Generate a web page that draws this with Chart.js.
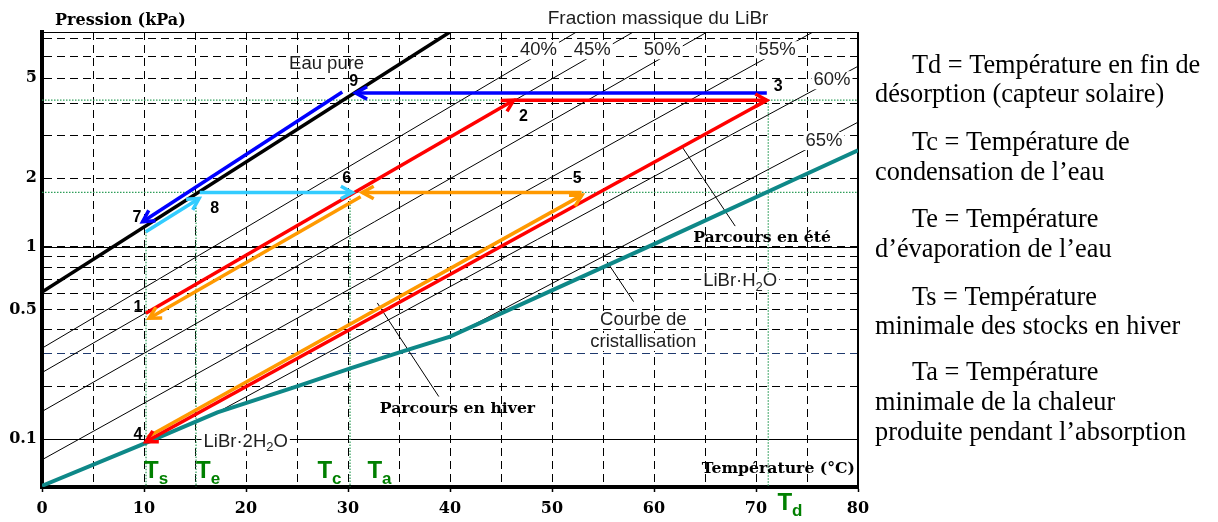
<!DOCTYPE html>
<html><head><meta charset="utf-8">
<script src="https://cdn.jsdelivr.net/npm/chart.js@4/dist/chart.umd.min.js"></script>
<style>html,body{margin:0;padding:0;background:#fff;overflow:hidden}canvas{display:block}</style>
</head><body>
<canvas id="c" width="1218" height="522"></canvas>
<script>
// ================= DATA (temperatures in °C, pressures in kPa) =================
const xTickValues = [0,5,10,15,20,25,30,35,40,45,50,55,60,65,70,75,80];
const xTickLabels = [0,10,20,30,40,50,60,70,80];
const yGridValues = [0.1,0.2,0.3,0.4,0.5,0.6,0.7,0.8,0.9,1,2,3,4,5,6,7];
const yTickLabels = [0.1,0.5,1,2,5];
const ySolidGrid = [0.1,1];
const yNavyGrid = [0.3];
const pMin = 0.0511, pMax = 7.375;

// pure water line
const waterT = [0, 40];
const waterP = [0.611, 7.375];

// LiBr iso-concentration lines (start / end)
const concNames = ['40%','45%','50%','55%','60%','65%'];
const concT0 = [0, 0, 0, 0, 17.2, 41.35];
const concP0 = [0.319, 0.237, 0.1445, 0.0753, 0.143, 0.396];
const concT1 = [52.4, 57.97, 65.21, 75.59, 80, 80];
const concP1 = [7.375, 7.375, 7.375, 7.375, 5.534, 3.381];

// crystallisation curve
const crystT = [0, 10.2, 17.2, 25.0, 30.3, 35.2, 40.0, 60, 73.6, 80];
const crystP = [0.052, 0.0951, 0.143, 0.1997, 0.2505, 0.3054, 0.3664, 1.027, 1.958, 2.607];

// characteristic temperatures and pressure levels
const T_s = 10.2, T_e = 15.1, T_c = 30.2, T_d = 71.2;
const P_high = 4.119, P_mid = 1.737;

// cycle segments [Tstart, Pstart, Tend, Pend]
const redSeg1 = [10.18, 0.4804, 46.25, 4.119];   // 1 -> 2
const redSeg2 = [46.25, 4.119, 71.06, 4.119];    // 2 -> 3
const redSeg3 = [71.06, 4.119, 10.18, 0.0965];   // 3 -> 4
const blueSeg1 = [71.06, 4.392, 30.75, 4.392];   // 3 -> 9
const blueSeg2 = [29.44, 4.43, 9.86, 1.294];     // 9 -> 7
const cyanSeg1 = [10.18, 1.167, 15.40, 1.637];   // 7 -> 8
const cyanSeg2 = [15.47, 1.737, 30.42, 1.737];   // 8 -> 6
const orangeSeg1 = [31.24, 1.664, 10.51, 0.4539];// 6 -> 1
const orangeSeg2 = [10.38, 0.1033, 52.94, 1.692];// 4 -> 5
const orangeSeg3 = [52.9, 1.737, 31.4, 1.737];   // 5 -> 6

// leader lines
const leaderSummer = [62.77, 2.686, 67.96, 1.238];
const leaderWinter = [32.87, 0.5404, 38.9, 0.1753];
const leaderCryst = [55.39, 0.8512, 58.0, 0.5484];

// point numbers
const ptNames = ['9','3','2','6','5','7','8','1','4'];
const ptT = [30.55, 72.17, 47.2, 29.87, 52.48, 9.30, 16.94, 9.40, 9.40];
const ptP = [4.866, 4.658, 3.569, 1.998, 1.998, 1.357, 1.486, 0.5106, 0.1061];

// percent label anchors
const concLabelT = [48.67, 53.95, 60.81, 72.07, 77.45, 76.67];
const concLabelP = [6.337, 6.337, 6.337, 6.337, 4.907, 2.840];

// temperature marker labels (T, subscript)
const tMarkNames = ['s','e','c','a','d'];
const tMarkT = [10.0, 15.1, 27.0, 31.9, 72.1];

// ================= custom Dühring pressure scale =================
const dewPoint = p => { const a = Math.log(p / 0.61094); return 243.04 * a / (17.625 - a); };
const satP = t => 0.61094 * Math.exp(17.625 * t / (t + 243.04));
class DuhringScale extends Chart.Scale {
  determineDataLimits() { this.min = this.options.min; this.max = this.options.max; }
  buildTicks() { return this.options.tickValues.map(v => ({ value: v })); }
  getLabelForValue(v) { return String(v); }
  configure() { super.configure(); this._t0 = dewPoint(this.min); this._t1 = dewPoint(this.max); }
  getPixelForValue(v) { return this.getPixelForDecimal((dewPoint(v) - this._t0) / (this._t1 - this._t0)); }
  getValueForPixel(px) { return satP(this._t0 + this.getDecimalForPixel(px) * (this._t1 - this._t0)); }
}
DuhringScale.id = 'duhring';
DuhringScale.defaults = {};
Chart.register(DuhringScale);

// ================= datasets =================
const pts = (ts, ps) => ts.map((t, i) => ({ x: t, y: ps[i] }));
const seg = s => [{ x: s[0], y: s[1] }, { x: s[2], y: s[3] }];
const line = (data, color, width, order, extra) => Object.assign({
  data, borderColor: color, borderWidth: width, pointRadius: 0, fill: false, tension: 0, order
}, extra || {});

const RED = '#ff0000', BLUE = '#0000ff', CYAN = '#33ccff', ORANGE = '#ff9900', TEAL = '#0e8888', GREEN = '#2f9e5a';
const datasets = [];
[redSeg1, redSeg2, redSeg3].forEach(s => datasets.push(line(seg(s), RED, 3.5, 0, { arrow: true })));
[blueSeg1, blueSeg2].forEach(s => datasets.push(line(seg(s), BLUE, 3.5, 0, { arrow: true })));
[cyanSeg1, cyanSeg2].forEach(s => datasets.push(line(seg(s), CYAN, 3.5, 0, { arrow: true })));
[orangeSeg1, orangeSeg2, orangeSeg3].forEach(s => datasets.push(line(seg(s), ORANGE, 3.5, 0.5, { arrow: true })));
datasets.push(line(pts(crystT, crystP), TEAL, 4, 1));
datasets.push(line(pts(waterT, waterP), '#000', 3.5, 1));
concNames.forEach((n, i) => datasets.push(line([{ x: concT0[i], y: concP0[i] }, { x: concT1[i], y: concP1[i] }], '#000', 1, 2)));
[leaderSummer, leaderWinter, leaderCryst].forEach(s => datasets.push(line(seg(s), '#000', 1, 2)));
// green dotted reference lines
const dotted = { borderDash: [1.5, 1.5] };
datasets.push(line([{ x: 0, y: P_high }, { x: 80, y: P_high }], GREEN, 1.2, 3, dotted));
datasets.push(line([{ x: 0, y: P_mid }, { x: 80, y: P_mid }], GREEN, 1.2, 3, dotted));
datasets.push(line([{ x: T_s, y: cyanSeg1[1] }, { x: T_s, y: pMin }], GREEN, 1.2, 3, dotted));
datasets.push(line([{ x: T_e, y: cyanSeg1[3] }, { x: T_e, y: pMin }], GREEN, 1.2, 3, dotted));
datasets.push(line([{ x: T_c, y: P_mid }, { x: T_c, y: pMin }], GREEN, 1.2, 3, dotted));
datasets.push(line([{ x: T_d, y: P_high }, { x: T_d, y: pMin }], GREEN, 1.2, 3, dotted));

// ================= plugins =================
const SANS = '"Liberation Sans", Arial, sans-serif';
const SERIF_B = 'bold 15.7px "DejaVu Serif", serif';

function drawParts(ctx, parts, x, y, align, bg) {
  let w = 0;
  parts.forEach(p => { ctx.font = p.font; p.w = ctx.measureText(p.t).width; w += p.w; });
  let sx = align === 'center' ? x - w / 2 : (align === 'right' ? x - w : x);
  if (bg) { ctx.fillStyle = '#fff'; ctx.fillRect(sx - 2, y - bg / 2, w + 4, bg); }
  ctx.textAlign = 'left';
  parts.forEach(p => { ctx.font = p.font; ctx.fillStyle = p.color || '#000'; ctx.fillText(p.t, sx, y + (p.dy || 0)); sx += p.w; });
}

const framePlugin = {
  id: 'frame',
  beforeDatasetsDraw(chart) {
    const { ctx, chartArea: a, scales: { y } } = chart;
    ctx.save();
    ctx.strokeStyle = '#000'; ctx.lineWidth = 1; ctx.setLineDash([]);
    ySolidGrid.forEach(v => {
      const py = Math.round(y.getPixelForValue(v)) + 0.5;
      ctx.beginPath(); ctx.moveTo(a.left, py); ctx.lineTo(a.right, py); ctx.stroke();
    });
    ctx.beginPath(); ctx.moveTo(a.left, a.top + 0.5); ctx.lineTo(a.right, a.top + 0.5); ctx.stroke();
    ctx.lineWidth = 2;
    ctx.beginPath(); ctx.moveTo(a.right, a.top); ctx.lineTo(a.right, a.bottom); ctx.stroke();
    ctx.restore();
  }
};

const arrowPlugin = {
  id: 'arrows',
  afterDatasetsDraw(chart) {
    const ctx = chart.ctx;
    chart.data.datasets.forEach((ds, i) => {
      if (!ds.arrow) return;
      const d = chart.getDatasetMeta(i).data;
      const p1 = d[d.length - 2], p2 = d[d.length - 1];
      const ang = Math.atan2(p2.y - p1.y, p2.x - p1.x);
      const L = 13, w = 0.5;
      ctx.save();
      ctx.strokeStyle = ds.borderColor; ctx.lineWidth = ds.borderWidth; ctx.lineJoin = 'miter'; ctx.lineCap = 'butt';
      ctx.beginPath();
      ctx.moveTo(p2.x - L * Math.cos(ang - w), p2.y - L * Math.sin(ang - w));
      ctx.lineTo(p2.x, p2.y);
      ctx.lineTo(p2.x - L * Math.cos(ang + w), p2.y - L * Math.sin(ang + w));
      ctx.stroke();
      ctx.restore();
    });
  }
};

const labelPlugin = {
  id: 'labels',
  afterDatasetsDraw(chart) {
    const { ctx, chartArea: a, scales: { x, y } } = chart;
    const X = t => x.getPixelForValue(t), Y = p => y.getPixelForValue(p);
    ctx.save();
    ctx.textBaseline = 'middle';
    const f18 = '18.5px ' + SANS, f13 = '13px ' + SANS;
    const txtCol = '#1e1e1e';
    concNames.forEach((n, i) => drawParts(ctx, [{ t: n, font: f18, color: txtCol }], X(concLabelT[i]), Y(concLabelP[i]), 'center', 18));
    drawParts(ctx, [{ t: 'Eau pure', font: f18, color: txtCol }], X(27.9), Y(5.63), 'center', 0);
    drawParts(ctx, [{ t: 'Courbe de', font: f18, color: txtCol }], X(58.95), Y(0.4448), 'center', 18);
    drawParts(ctx, [{ t: 'cristallisation', font: f18, color: txtCol }], X(58.95), Y(0.3437), 'center', 18);
    drawParts(ctx, [{ t: 'LiBr·H', font: f18, color: txtCol }, { t: '2', font: f13, color: txtCol, dy: 6 }, { t: 'O', font: f18, color: txtCol }], X(68.45), Y(0.6905), 'center', 18);
    drawParts(ctx, [{ t: 'LiBr·2H', font: f18, color: txtCol }, { t: '2', font: f13, color: txtCol, dy: 6 }, { t: 'O', font: f18, color: txtCol }], X(19.97), Y(0.0965), 'center', 18);
    drawParts(ctx, [{ t: 'Parcours en été', font: SERIF_B }], X(70.6), Y(1.0935), 'center', 0);
    drawParts(ctx, [{ t: 'Parcours en hiver', font: SERIF_B }], X(40.73), Y(0.1496), 'center', 0);
    ptNames.forEach((n, i) => drawParts(ctx, [{ t: n, font: 'bold 16px ' + SANS }], X(ptT[i]), Y(ptP[i]), 'center', 0));
    ctx.textBaseline = 'alphabetic';
    tMarkNames.forEach((s, i) => {
      const by = s === 'd' ? a.bottom + 23 : a.bottom - 9;
      drawParts(ctx, [{ t: 'T', font: 'bold 24px ' + SANS, color: '#008000' }, { t: s, font: 'bold 17px ' + SANS, color: '#008000', dy: 6 }], X(tMarkT[i]), by, 'left', 0);
    });
    drawParts(ctx, [{ t: 'Pression (kPa)', font: 'bold 16px "DejaVu Serif", serif' }], a.left + 13, a.top - 7, 'left', 0);
    drawParts(ctx, [{ t: 'Fraction massique du LiBr', font: '19px ' + SANS, color: txtCol }], X(60.4), a.top - 8, 'center', 0);
    drawParts(ctx, [{ t: 'Température (°C)', font: 'bold 15.7px "DejaVu Serif", serif' }], a.right - 3, a.bottom - 14, 'right', 0);
    ctx.restore();
  },
  afterDraw(chart) {
    const { ctx, chartArea: a } = chart;
    const notes = [
      ['Td = Température en fin de', 54, 73],
      ['désorption (capteur solaire)', 17, 102],
      ['Tc = Température de', 54, 150],
      ['condensation de l\u2019eau', 17, 180],
      ['Te = Température', 54, 227],
      ['d\u2019évaporation de l\u2019eau', 17, 257],
      ['Ts = Température', 54, 305],
      ['minimale des stocks en hiver', 17, 334],
      ['Ta = Température', 54, 380],
      ['minimale de la chaleur', 17, 410],
      ['produite pendant l\u2019absorption', 17, 440]
    ];
    ctx.save();
    ctx.textBaseline = 'alphabetic'; ctx.textAlign = 'left'; ctx.fillStyle = '#000';
    ctx.font = '26.3px "Liberation Serif", "Times New Roman", serif';
    notes.forEach(n => ctx.fillText(n[0], a.right + n[1], n[2]));
    ctx.restore();
  }
};

// ================= chart =================
new Chart(document.getElementById('c'), {
  type: 'line',
  data: { datasets },
  options: {
    responsive: false, animation: false, events: [],
    layout: { padding: { left: 0, top: 32, right: 360, bottom: 0 } },
    plugins: { legend: { display: false }, tooltip: { enabled: false } },
    scales: {
      x: {
        type: 'linear', min: 0, max: 80,
        afterBuildTicks: s => { s.ticks = xTickValues.map(v => ({ value: v })); },
        afterFit: s => { s.height = 35; },
        ticks: { autoSkip: false, maxRotation: 0, padding: 7, color: '#000', font: { family: '"DejaVu Serif", serif', size: 16, weight: 'bold' },
          callback: v => xTickLabels.includes(v) ? String(v) : '' },
        grid: { color: '#000', lineWidth: 1, drawTicks: true, tickLength: 5, tickWidth: 1.5,
          tickColor: c => (c.tick && xTickLabels.includes(c.tick.value)) ? '#000' : 'rgba(0,0,0,0)' },
        border: { display: true, color: '#000', width: 4, dash: [8, 5] }
      },
      y: {
        type: 'duhring', min: pMin, max: pMax, tickValues: yGridValues,
        afterFit: s => { s.width = 42; },
        ticks: { autoSkip: false, padding: 5, color: '#000', font: { family: '"DejaVu Serif", serif', size: 16, weight: 'bold' },
          callback: v => yTickLabels.some(l => Math.abs(l - v) < 1e-9) ? String(v) : '' },
        grid: { drawTicks: false, lineWidth: 1,
          color: c => (c.tick && yNavyGrid.some(l => Math.abs(l - c.tick.value) < 1e-9)) ? '#1f3a6e' : '#000' },
        border: { display: true, color: '#000', width: 4, dash: [8, 5] }
      }
    }
  },
  plugins: [framePlugin, arrowPlugin, labelPlugin]
});
</script>
</body></html>
